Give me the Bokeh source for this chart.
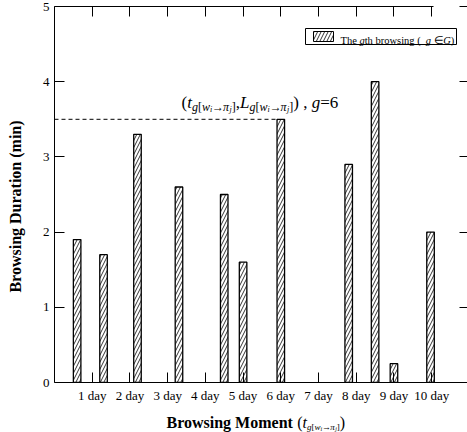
import math
from bokeh.plotting import figure
from bokeh.models import Label, FixedTicker, LinearAxis, Range1d
from bokeh.layouts import column, row
from bokeh.embed import file_html
from bokeh.resources import INLINE

# ---------------- data ----------------
moments = [0.6, 1.3, 2.2, 3.3, 4.5, 5.0, 6.0, 7.8, 8.5, 9.0, 9.97]
durations = [1.9, 1.7, 3.3, 2.6, 2.5, 1.6, 3.5, 2.9, 4.0, 0.25, 2.0]
day_ticks = [1, 2, 3, 4, 5, 6, 7, 8, 9, 10]
day_labels = ["1 day", "2 day", "3 day", "4 day", "5 day",
              "6 day", "7 day", "8 day", "9 day", "10 day"]
y_ticks = [0, 1, 2, 3, 4, 5]
y_title = "Browsing Duration (min)"
highlight = 6  # bar marked by the dashed line

FONT = "Liberation Serif"
BAR_W = 0.2
X_END = 10.95
Y_END = 5
TOTAL_W, TOTAL_H = 467, 432
LEFT_W = 26
MAIN_H = 406
STRIP_H = TOTAL_H - MAIN_H
FRAME_L, FRAME_T, FRAME_B = 54, 6, 382
PX_Y = (FRAME_B - FRAME_T) / Y_END
PX_X = (TOTAL_W - FRAME_L) / X_END

xr = Range1d(0, X_END)
yr = Range1d(0, Y_END)
p = figure(width=TOTAL_W - LEFT_W, height=MAIN_H, x_range=xr, y_range=yr,
           output_backend="svg", toolbar_location=None,
           min_border_left=FRAME_L - LEFT_W, min_border_right=0,
           min_border_top=FRAME_T, min_border_bottom=MAIN_H - FRAME_B)
p.outline_line_color = None
p.grid.visible = False
p.background_fill_color = "white"
p.border_fill_color = "white"

# bars
p.vbar(x=moments, top=durations, width=BAR_W, bottom=0,
       fill_color="white", line_color="black", line_width=1.3,
       hatch_pattern="/", hatch_color="black", hatch_scale=7, hatch_weight=0.8)

# dashed reference line
p.line(x=[0, moments[highlight] - BAR_W / 2], y=[durations[highlight]] * 2,
       line_color="black", line_width=1, line_dash="4 3")

# axes
bottom_ax = p.below[0]
left_ax = p.left[0]
bottom_ax.ticker = FixedTicker(ticks=day_ticks)
bottom_ax.major_label_overrides = {t: l for t, l in zip(day_ticks, day_labels)}
left_ax.ticker = FixedTicker(ticks=y_ticks)

top_ax = LinearAxis(ticker=FixedTicker(ticks=day_ticks), bounds=(0, day_ticks[-1] + 0.05),
                    major_label_overrides={t: "" for t in day_ticks})
right_ax = LinearAxis(ticker=FixedTicker(ticks=y_ticks),
                      major_label_overrides={t: "" for t in y_ticks})
p.add_layout(top_ax, "above")
p.add_layout(right_ax, "right")

for ax in [bottom_ax, left_ax, top_ax, right_ax]:
    ax.axis_line_color = "black"
    ax.axis_line_width = 1
    ax.major_tick_line_color = "black"
    ax.major_tick_in = 10
    ax.major_tick_out = 0
    ax.minor_tick_line_color = None
    ax.major_label_text_font = FONT
    ax.major_label_text_font_size = "13px"
    ax.major_label_text_color = "black"
    ax.major_label_standoff = 5

for ax in [top_ax, right_ax]:
    ax.major_label_standoff = 0
right_ax.axis_line_color = None
right_ax.major_tick_in = 8


def blank(fig):
    fig.outline_line_color = None
    fig.grid.visible = False
    fig.border_fill_color = "white"
    fig.background_fill_color = "white"
    return fig


# left strip for the y-axis title (shares the y scale)
left = blank(figure(width=LEFT_W, height=MAIN_H, x_range=Range1d(0, LEFT_W), y_range=yr,
                    output_backend="svg", toolbar_location=None,
                    x_axis_location=None, y_axis_location=None,
                    min_border_left=0, min_border_right=0,
                    min_border_top=FRAME_T, min_border_bottom=MAIN_H - FRAME_B))
left.add_layout(Label(x=15, y=(FRAME_B - 206) / PX_Y, text=y_title, angle=math.pi / 2,
                      text_align="center", text_baseline="middle", text_font=FONT,
                      text_font_size="16px", text_font_style="bold", text_color="black"))

# bottom strip for the x-axis title (shares the x scale)
strip = blank(figure(width=TOTAL_W, height=STRIP_H, x_range=xr, y_range=Range1d(0, STRIP_H),
                     output_backend="svg", toolbar_location=None,
                     x_axis_location=None, y_axis_location=None,
                     min_border_left=FRAME_L, min_border_right=0,
                     min_border_top=0, min_border_bottom=0))

# ---------------- text runs ----------------
W = {
    "normal": {" ": .25, "(": .333, ")": .333, "[": .333, "]": .333, ",": .25, "=": .564,
               "6": .5, "T": .611, "h": .5, "e": .444, "b": .5, "r": .333, "o": .5,
               "w": .722, "s": .389, "i": .278, "n": .5, "g": .5, "\u2192": .9, "\u2208": .67},
    "italic": {"t": .278, "g": .5, "w": .667, "i": .278, "L": .556, "j": .278, "G": .722,
               "\u03c0": .55},
    "bold": {"B": .667, "r": .444, "o": .5, "w": .722, "s": .389, "i": .278, "n": .556,
             "g": .5, " ": .25, "M": .944, "m": .833, "e": .444, "t": .333},
}


def tw(s, style, size):
    return sum(W[style].get(c, .5) for c in s) * size


def run(fig, x, y, parts, px_y):
    off = 0.0
    for text, size, style, dy in parts:
        lead = len(text) - len(text.lstrip(" "))
        off += tw(" " * lead, style, size)
        t = text.strip(" ")
        if t:
            fig.add_layout(Label(x=x, y=y - dy / px_y, x_offset=off, text=t,
                                 text_font=FONT, text_font_size=f"{size}px",
                                 text_font_style=style, text_baseline="alphabetic",
                                 text_color="black"))
        off += tw(t, style, size)
        trail = len(text) - len(text.rstrip(" "))
        off += tw(" " * trail, style, size)


def sub(s1, s2, d1, d2):
    return [("g", s1, "italic", d1), ("[", s1, "normal", d1), ("w", s1, "italic", d1),
            ("i", s2, "italic", d2), ("\u2192", s1, "normal", d1), ("\u03c0", s1, "italic", d1),
            ("j", s2, "italic", d2), ("]", s1, "normal", d1)]


# annotation at the dashed line
S, s1, s2 = 17, 12, 8
ann = ([("(", S, "normal", 0), ("t", S, "italic", 0)] + sub(s1, s2, 4, 7) +
       [(",", S, "normal", 0), ("L", S, "italic", 0)] + sub(s1, s2, 4, 7) +
       [(")", S, "normal", 0), (" , ", S, "normal", 0), ("g", S, "italic", 0),
        ("=6", S, "normal", 0)])
run(p, (181 - FRAME_L) / PX_X, (FRAME_B - 102) / PX_Y, ann, PX_Y)

# x axis title (strip y is pixels from its bottom)
xt = ([("Browsing Moment", 16, "bold", 0), (" (", 16, "normal", 0), ("t", 16, "italic", 0)] +
      sub(9, 6, 4, 6) + [(")", 16, "normal", 0)])
run(strip, (166 - FRAME_L) / PX_X, TOTAL_H - 422, xt, 1)

# legend
p.quad(left=[(305 - FRAME_L) / PX_X], right=[(456 - FRAME_L) / PX_X],
       bottom=[(FRAME_B - 44) / PX_Y], top=[(FRAME_B - 28) / PX_Y],
       fill_color="white", line_color="black", line_width=1)
p.quad(left=[(313 - FRAME_L) / PX_X], right=[(333 - FRAME_L) / PX_X],
       bottom=[(FRAME_B - 41) / PX_Y], top=[(FRAME_B - 31) / PX_Y],
       fill_color="white", line_color="black", line_width=1,
       hatch_pattern="/", hatch_color="black", hatch_scale=7, hatch_weight=0.8)
LS = 10.5
leg = [("The ", LS, "normal", 0), ("g", LS, "italic", 0), ("th browsing ( ", LS, "normal", 0),
       ("g", LS, "italic", 0), (" \u2208 ", LS, "normal", 0), ("G", LS, "italic", 0),
       (")", LS, "normal", 0)]
run(p, (340 - FRAME_L) / PX_X, (FRAME_B - 40) / PX_Y, leg, PX_Y)

layout = column(row(left, p, spacing=0), strip, spacing=0)
open("out.html", "w").write(file_html(layout, INLINE))
